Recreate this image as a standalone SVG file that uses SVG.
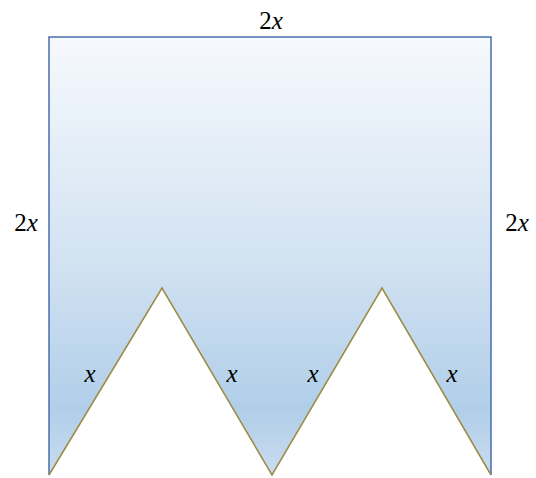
<svg xmlns="http://www.w3.org/2000/svg" width="536" height="478" viewBox="0 0 536 478">
<defs>
<linearGradient id="g" x1="0" y1="37" x2="0" y2="475" gradientUnits="userSpaceOnUse">
<stop offset="0" stop-color="#f6f9fd"/>
<stop offset="0.5" stop-color="#d3e3f2"/>
<stop offset="0.85" stop-color="#b1cee9"/>
<stop offset="1" stop-color="#c9dcef"/>
</linearGradient>
<style>
text{font-family:'Liberation Serif','Times New Roman','DejaVu Serif',serif;font-size:25px;fill:#000;}
.v{font-style:italic;}
</style>
</defs>
<g id="shape">
<polygon points="49,37 491,37 491,475 382,288 272,475 162,288 49,475" fill="url(#g)" stroke="none"/>
<polyline points="49,475 49,37 491,37 491,475" fill="none" stroke="#4a6eab" stroke-width="1.5"/>
<polyline points="49,475 162,288 272,475 382,288 491,475" fill="none" stroke="#9c8a44" stroke-width="1.5"/>
</g>
<g id="labels">
<text font-family="Liberation Serif, serif" x="271" y="29" text-anchor="middle">2<tspan class="v">x</tspan></text>
<text font-family="Liberation Serif, serif" x="26" y="231" text-anchor="middle">2<tspan class="v">x</tspan></text>
<text font-family="Liberation Serif, serif" x="517" y="231" text-anchor="middle">2<tspan class="v">x</tspan></text>
<text font-family="Liberation Serif, serif" class="v" x="90" y="382" text-anchor="middle">x</text>
<text font-family="Liberation Serif, serif" class="v" x="232" y="382" text-anchor="middle">x</text>
<text font-family="Liberation Serif, serif" class="v" x="313" y="382" text-anchor="middle">x</text>
<text font-family="Liberation Serif, serif" class="v" x="452" y="382" text-anchor="middle">x</text>
</g>
</svg>
